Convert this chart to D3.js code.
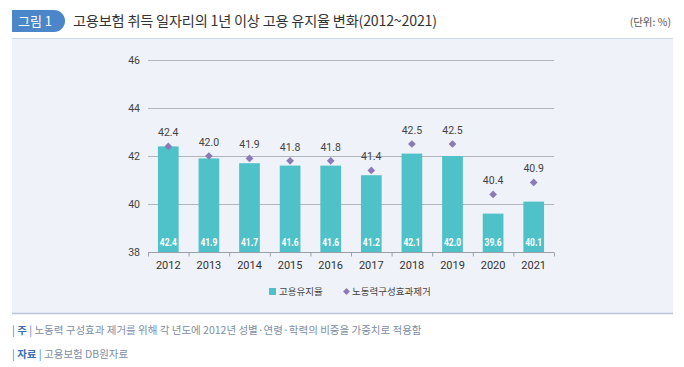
<!DOCTYPE html>
<html><head><meta charset="utf-8">
<script src="https://cdn.jsdelivr.net/npm/d3@7"></script>
<style>
html,body{margin:0;padding:0;background:#fff;}
svg{display:block;font-family:"Noto Sans CJK KR","Noto Sans",sans-serif;}
</style></head>
<body><svg id="c" width="684" height="367"></svg>
<script>
const years = ["2012","2013","2014","2015","2016","2017","2018","2019","2020","2021"];
const retention = [42.4,41.9,41.7,41.6,41.6,41.2,42.1,42.0,39.6,40.1];
const adjusted = [42.4,42.0,41.9,41.8,41.8,41.4,42.5,42.5,40.4,40.9];
const yTicks = [38,40,42,44,46];
const seriesNames = ["고용유지율","노동력구성효과제거"];
const titleText = "고용보험 취득 일자리의 1년 이상 고용 유지율 변화(2012~2021)";
const badgeText = "그림 1";
const unitText = "(단위: %)";
const noteText = "노동력 구성효과 제거를 위해 각 년도에 2012년 성별·연령·학력의 비중을 가중치로 적용함";
const sourceText = "고용보험 DB원자료";

const svg = d3.select("#c");
const barColor = "#4fc2c9", dotColor = "#8a7bb8";

// panel
svg.append("rect").attr("x",12).attr("y",38).attr("width",661).attr("height",276).attr("fill","#eff2f8");
svg.append("line").attr("x1",12).attr("x2",673).attr("y1",38.5).attr("y2",38.5).attr("stroke","#cdd6e6").attr("stroke-width",1);
svg.append("line").attr("x1",12).attr("x2",673).attr("y1",313.5).attr("y2",313.5).attr("stroke","#b7c4d6").attr("stroke-width",1.5);

// badge
svg.append("path").attr("d","M12,10 H54 A11,11 0 0 1 54,32 H12 Z").attr("fill","#4a86c8");
svg.append("text").attr("x",35).attr("y",26).attr("text-anchor","middle").attr("fill","#fff").attr("font-size",13).text(badgeText);
svg.append("text").attr("x",73).attr("y",26).attr("fill","#333").attr("font-size",14.2).attr("letter-spacing",-0.2).text(titleText);
svg.append("text").attr("x",671).attr("y",26).attr("text-anchor","end").attr("fill","#555").attr("font-size",10.5).text(unitText);

const x = d3.scaleBand().domain(years).range([148,554]).paddingInner(0.49).paddingOuter(0.245);
const y = d3.scaleLinear().domain([38,46]).range([252,60]);

// grid
svg.append("g").selectAll("line").data(yTicks.filter(d=>d>38)).join("line")
  .attr("x1",148).attr("x2",554).attr("y1",d=>y(d)+0.5).attr("y2",d=>y(d)+0.5)
  .attr("stroke","#b0b4bc").attr("stroke-width",1);

// y labels
svg.append("g").selectAll("text").data(yTicks).join("text")
  .attr("x",140).attr("y",d=>y(d)+4).attr("text-anchor","end")
  .attr("fill","#444").attr("font-size",10.5).attr("font-family","Roboto, sans-serif").text(d=>d);

// bars
svg.append("g").selectAll("rect").data(retention).join("rect")
  .attr("x",(d,i)=>x(years[i])).attr("width",x.bandwidth())
  .attr("y",d=>y(d)).attr("height",d=>y(38)-y(d)).attr("fill",barColor);

// x axis
const xAxis = svg.append("g").attr("transform","translate(0,252.5)");
xAxis.append("line").attr("x1",148).attr("x2",554).attr("stroke","#9aa0a8");
const step = x.step();
xAxis.selectAll("line.t").data(d3.range(years.length+1)).join("line").attr("class","t")
  .attr("x1",d=>148+d*step+0.5).attr("x2",d=>148+d*step+0.5).attr("y1",0).attr("y2",4).attr("stroke","#9aa0a8");
svg.append("g").selectAll("text").data(years).join("text")
  .attr("x",d=>x(d)+x.bandwidth()/2).attr("y",269).attr("text-anchor","middle")
  .attr("fill","#333").attr("font-size",11).attr("font-family","Roboto, sans-serif").text(d=>d);

// inner bar labels
svg.append("g").selectAll("text").data(retention).join("text")
  .attr("x",(d,i)=>x(years[i])+x.bandwidth()/2).attr("y",245.5).attr("text-anchor","middle")
  .attr("fill","#fff").attr("font-size",10.8).attr("font-weight","bold")
  .attr("textLength",17).attr("lengthAdjust","spacingAndGlyphs")
  .attr("font-family","Roboto, sans-serif")
  .text(d=>d.toFixed(1));

// diamonds
const sym = d3.symbol().type(d3.symbolDiamond2).size(38);
svg.append("g").selectAll("path").data(adjusted).join("path")
  .attr("transform",(d,i)=>`translate(${x(years[i])+x.bandwidth()/2},${y(d)})`)
  .attr("d",sym).attr("fill",dotColor);
svg.append("g").selectAll("text").data(adjusted).join("text")
  .attr("x",(d,i)=>x(years[i])+x.bandwidth()/2).attr("y",d=>y(d)-10).attr("text-anchor","middle")
  .attr("fill","#444").attr("font-size",10.5).attr("font-family","Roboto, sans-serif").text(d=>d.toFixed(1));

// legend
svg.append("rect").attr("x",269).attr("y",288).attr("width",7).attr("height",7).attr("fill",barColor);
svg.append("text").attr("x",279).attr("y",295).attr("fill","#444").attr("font-size",9.5).text(seriesNames[0]);
svg.append("path").attr("transform","translate(346.5,291.5)").attr("d",d3.symbol().type(d3.symbolDiamond2).size(30)).attr("fill",dotColor);
svg.append("text").attr("x",352).attr("y",295).attr("fill","#444").attr("font-size",9.5).text(seriesNames[1]);

// footer
function foot(yy,label,txt){
  const t = svg.append("text").attr("x",12).attr("y",yy).attr("font-size",10.5);
  t.append("tspan").attr("fill","#4a7fc0").text("| ");
  t.append("tspan").attr("fill","#3d6fb2").attr("font-weight","bold").text(label);
  t.append("tspan").attr("fill","#4a7fc0").text(" | ");
  t.append("tspan").attr("fill","#7d8ea5").text(txt);
}
foot(334,"주",noteText);
foot(358,"자료",sourceText);
</script></body></html>
